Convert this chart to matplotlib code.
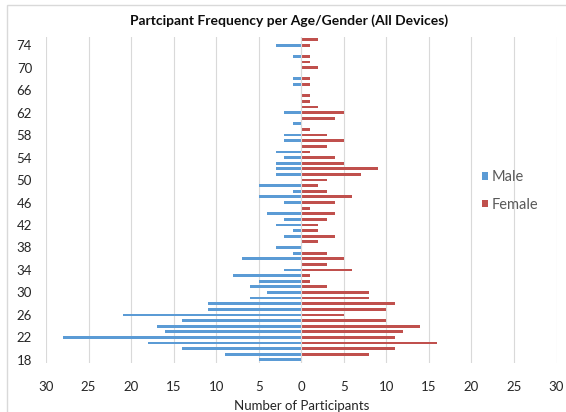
import matplotlib
matplotlib.use("Agg")
import matplotlib.pyplot as plt
import numpy as np
from matplotlib.patches import Rectangle

# participants per age (18..75)
ages = list(range(18, 76))
male = [5, 9, 14, 18, 28, 16, 17, 14, 21, 11, 11, 6, 4, 6, 5, 8, 2, 0, 7, 1,
        3, 0, 2, 1, 3, 2, 4, 0, 2, 5, 1, 5, 0, 3, 3, 3, 2, 3, 0, 2,
        2, 0, 1, 0, 2, 0, 0, 0, 0, 1, 1, 0, 0, 0, 1, 0, 3, 0]
female = [0, 8, 11, 16, 11, 12, 14, 10, 5, 10, 11, 8, 8, 3, 1, 1, 6, 3, 5, 3,
          0, 2, 4, 2, 2, 3, 4, 1, 4, 6, 3, 2, 3, 7, 9, 5, 4, 1, 3, 5,
          3, 1, 0, 4, 5, 2, 1, 1, 0, 1, 1, 0, 2, 1, 1, 0, 1, 2]
x_ticks = list(range(-30, 31, 5))
y_ticks = list(range(18, 75, 4))

plt.rcParams['font.family'] = ['Lato', 'DejaVu Sans']

W, H = 566, 412
fig = plt.figure(figsize=(W / 100, H / 100), dpi=100)

# light chart-area border (top and left edges visible)
fig.patches.append(Rectangle((7 / W, -0.1), 1.2, 1 - 5 / H + 0.1,
                             transform=fig.transFigure, fill=False,
                             edgecolor="#D9D9D9", lw=1.0))

ax = fig.add_axes([46 / W, 1 - 362.7 / H, (556.5 - 46) / W, (362.7 - 36.7) / H])

blue = "#5B9BD5"
red = "#C0504D"
ax.barh(ages, -np.array(male), height=0.5, color=blue, label="Male", zorder=2)
ax.barh(ages, female, height=0.5, color=red, label="Female", zorder=2)

ax.set_xlim(-30, 30)
ax.set_ylim(17.5, 75.5)
ax.set_xticks(x_ticks)
ax.set_xticklabels([str(abs(t)) for t in x_ticks])
ax.set_yticks(y_ticks)
ax.tick_params(length=0, labelsize=9.5, colors="#262626")
ax.tick_params(axis="x", pad=13)
ax.tick_params(axis="y", pad=10)
ax.grid(axis="x", color="#D9D9D9", lw=0.8, zorder=0)
ax.axvline(0, color="#D9D9D9", lw=0.8, zorder=3)
for s in ax.spines.values():
    s.set_visible(False)

ax.set_xlabel("Number of Participants", fontsize=9.5, color="#262626", labelpad=5)
fig.text(289.5 / W, 1 - 20.5 / H, "Partcipant Frequency per Age/Gender (All Devices)",
         ha="center", va="center", fontsize=10, fontweight="bold", color="#0D0D0D")

leg = ax.legend(loc="center left", bbox_to_anchor=(481.5 / W, 1 - 190.8 / H),
                bbox_transform=fig.transFigure, frameon=False, fontsize=10.5,
                borderpad=0, borderaxespad=0,
                handlelength=0.45, handleheight=0.45, handletextpad=0.25,
                labelspacing=0.95, labelcolor="#595959")

fig.savefig("out.png", dpi=100)
